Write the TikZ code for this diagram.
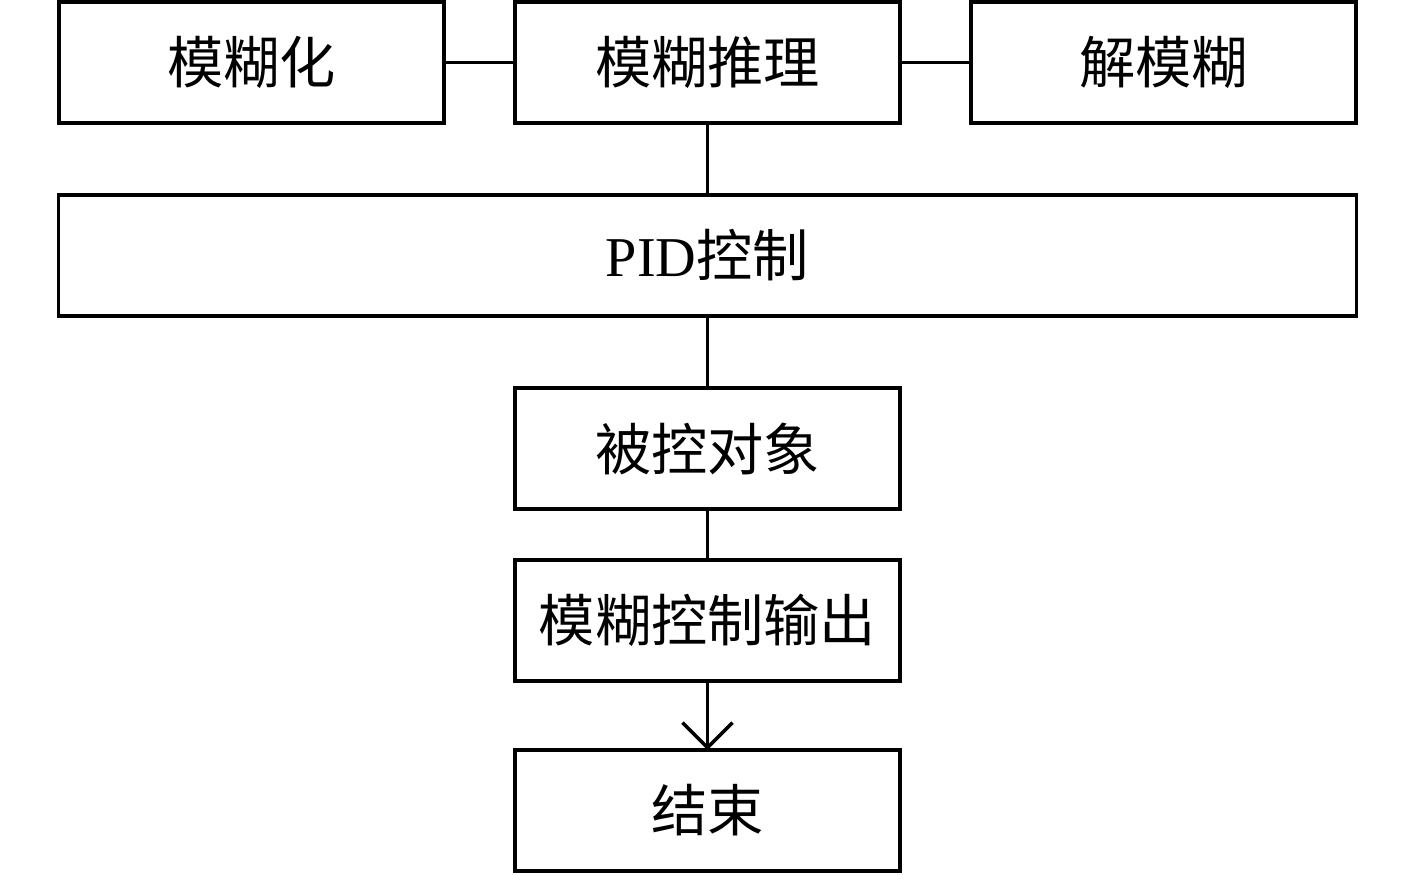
\documentclass[tikz,border=0pt]{standalone}
\usepackage{fontspec}
\setmainfont{Liberation Serif}
\newfontfamily\cjk{Noto Sans CJK SC}
\usetikzlibrary{positioning, arrows.meta}

\begin{document}
\begin{tikzpicture}[line width=2pt, >={Straight Barb[length=0.5cm,width=1cm,line width=2pt]},
  block/.style={draw, rectangle, outer sep=0pt, minimum width=7.7cm, minimum height=2.42cm,
    align=center, font=\cjk\fontsize{32}{38}\selectfont}]
  \useasboundingbox (0,0) rectangle (28.34,-17.48);

  \node[block] (infer) at (14.15,-1.25) {模糊推理};
  \node[block, left=1.42cm of infer] (fuzz) {模糊化};
  \node[block, right=1.42cm of infer] (defuzz) {解模糊};
  \node[block, below=1.44cm of infer, minimum width=25.96cm] (pid) {{\rmfamily PID}控制};
  \node[block, below=1.44cm of pid] (plant) {被控对象};
  \node[block, below=1.02cm of plant] (out) {模糊控制输出};
  \node[block, below=1.38cm of out] (done) {结束};

  \path
    (fuzz) edge (infer)
    (infer) edge (defuzz)
    (infer) edge (pid)
    (pid) edge (plant)
    (plant) edge (out)
    (out) edge[->] (done);

\end{tikzpicture}
\end{document}
